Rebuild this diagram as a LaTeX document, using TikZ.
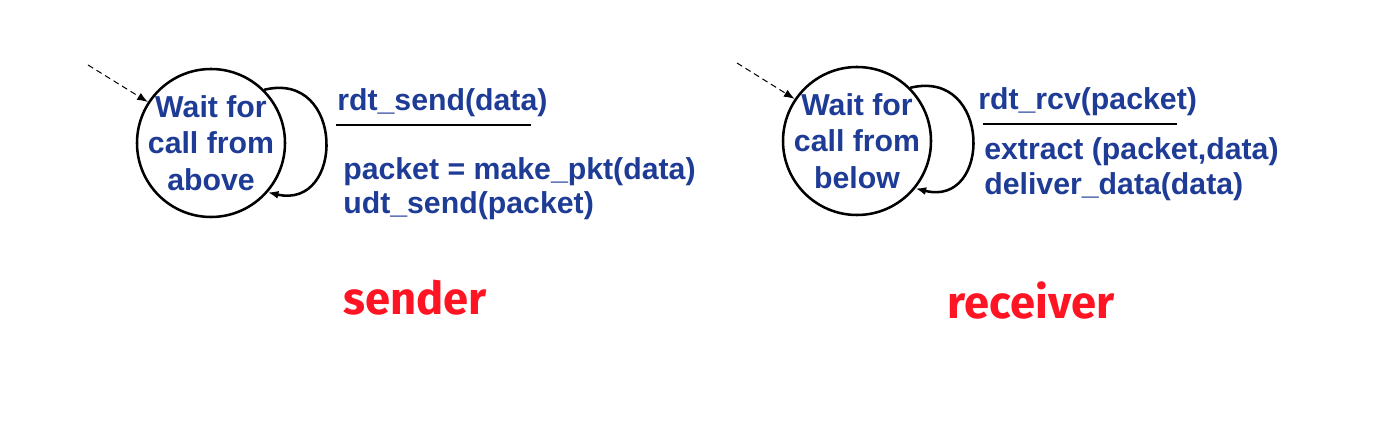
\documentclass[tikz,border=0pt]{standalone}
\usepackage{fontspec}
\setmainfont{Liberation Sans}
\newfontfamily\rolefont{Fira Sans}
\usetikzlibrary{arrows.meta}

\definecolor{fsmblue}{RGB}{30,60,150}
\definecolor{rolered}{RGB}{255,20,35}

\tikzset{
	state/.style = {draw, circle, line width = 1.9pt, minimum size = 111pt, inner sep = 0pt},
	statetext/.style = {align = center, text = fsmblue, inner sep = 0pt,
		font = \fontsize{22.7}{27.2}\selectfont\bfseries},
	act/.style = {anchor = base west, text = fsmblue, inner sep = 0pt,
		font = \fontsize{22.7}{27.2}\selectfont\bfseries},
	selfloop/.style = {line width = 1.9pt, -{Latex[length = 8pt, width = 6pt]}},
	initarrow/.style = {dash pattern = on 4.5pt off 3pt, line width = 0.75pt,
		-{Latex[length = 8pt, width = 6pt]}},
	role/.style = {anchor = base, text = rolered, inner sep = 0pt,
		font = \fontsize{34}{38}\rolefont\bfseries}
}

\begin{document}
\begin{tikzpicture}[x = 0.75pt, y = -0.75pt]

\useasboundingbox (0, 0) rectangle (1374, 438);

% sender side
\node[state] (S) at (211, 143) {};
\node[statetext] (St) at (S) {Wait for\\call from\\above};
\coordinate (Sin) at (88, 65);
\draw[initarrow] (Sin) -- (S.147);
\draw[selfloop] (S.45) .. controls (345, 70) and (345, 210) .. (S.-41);

\node[act] (Sg) at (337, 111) {rdt\_send(data)};
\draw[line width = 1.9pt] (336, 125) -- (531, 125);
\node[act] (Sa1) at (343, 180) {packet = make\_pkt(data)};
\node[act] (Sa2) at (343, 214) {udt\_send(packet)};

\node[role] (Sr) at (415, 315) {sender};

% receiver side
\node[state] (R) at (857, 141) {};
\node[statetext] (Rt) at (R) {Wait for\\call from\\below};
\coordinate (Rin) at (737, 63);
\draw[initarrow] (Rin) -- (R.146);
\draw[selfloop] (R.45) .. controls (992, 68) and (992, 208) .. (R.-39);

\node[act] (Rg) at (978, 110) {rdt\_rcv(packet)};
\draw[line width = 1.9pt] (983, 124) -- (1177, 124);
\node[act] (Ra1) at (984, 160) {extract (packet,data)};
\node[act] (Ra2) at (984, 195) {deliver\_data(data)};

\node[role] (Rr) at (1031, 318) {receiver};

\end{tikzpicture}
\end{document}
